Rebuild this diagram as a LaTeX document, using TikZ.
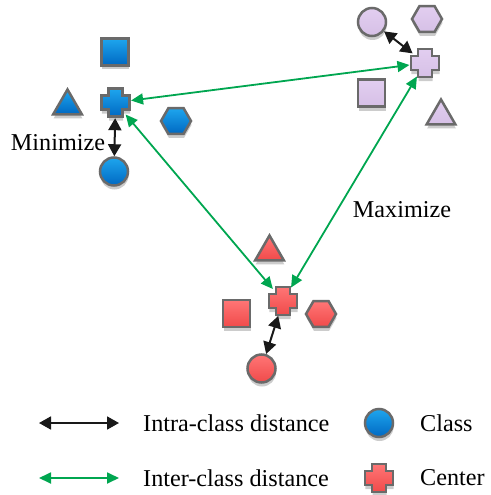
\documentclass[tikz,border=0pt]{standalone}
\usepackage{fontspec}
\setmainfont{Liberation Serif}
\usetikzlibrary{arrows.meta,shapes.geometric,shadows,calc}
\definecolor{btop}{HTML}{1EA6EE}
\definecolor{bbot}{HTML}{0068C2}
\definecolor{ptop}{HTML}{E2CEF0}
\definecolor{pbot}{HTML}{D6C0E6}
\definecolor{rtop}{HTML}{FF7676}
\definecolor{rbot}{HTML}{F04A4A}
\definecolor{edge}{HTML}{6A6A6A}
\definecolor{grn}{HTML}{00A650}
\tikzset{
  shp/.style={draw=edge, line width=2.5pt, inner sep=0pt,
    drop shadow={shadow xshift=0.5pt, shadow yshift=-4pt, fill=black, opacity=0.2}},
  bluef/.style={top color=btop, bottom color=bbot},
  purpf/.style={top color=ptop, bottom color=pbot},
  redf/.style={top color=rtop, bottom color=rbot},
  sq/.style={shp, rectangle, minimum size=27pt},
  tri/.style={shp, regular polygon, regular polygon sides=3, minimum size=33pt},
  hexa/.style={shp, regular polygon, regular polygon sides=6, minimum size=30pt},
  circ/.style={shp, circle, minimum size=28pt},
  ctr/.style={circle, minimum size=31pt, inner sep=0pt},
  crossp/.style={shp},
  intra/.style={{Triangle[length=12pt,width=13pt]}-{Triangle[length=12pt,width=13pt]}, line width=2pt, black!90},
  inter/.style={{Triangle[length=12pt,width=11pt]}-{Triangle[length=12pt,width=11pt]}, line width=1.8pt, grn},
  lbl/.style={font=\fontsize{24.2}{27}\selectfont, inner sep=0pt}
}
\newcommand{\crossdraw}[2]{%
  \draw[crossp, #2, shift={(#1.center)}] (-7,-14.2) -- (7,-14.2) -- (7,-7) -- (14.2,-7) -- (14.2,7) -- (7,7) -- (7,14.2) -- (-7,14.2) -- (-7,7) -- (-14.2,7) -- (-14.2,-7) -- (-7,-7) -- cycle;}
\begin{document}
\begin{tikzpicture}[x=1pt,y=-1pt]
\useasboundingbox (0,0) rectangle (490,495);
% blue class
\node[sq, bluef] (bsq) at (115,52) {};
\node[tri, bluef] (btri) at (67.5,106) {};
\node[hexa, bluef] (bhex) at (176,121) {};
\node[circ, bluef] (bcirc) at (114,171.5) {};
\node[ctr] (bc) at (115.5,102.5) {};
\crossdraw{bc}{bluef}
% purple class
\node[circ, purpf] (pcirc) at (372,22) {};
\node[hexa, purpf] (phex) at (427,19) {};
\node[sq, purpf] (psq) at (371.5,93) {};
\node[tri, purpf] (ptri) at (441,116) {};
\node[ctr] (pc) at (425,63) {};
\crossdraw{pc}{purpf}
% red class
\node[tri, redf] (rtri) at (269.5,252) {};
\node[sq, redf] (rsq) at (236.5,313.5) {};
\node[hexa, redf] (rhex) at (321,314) {};
\node[circ, redf] (rcirc) at (261.5,368.5) {};
\node[ctr] (rc) at (283,301) {};
\crossdraw{rc}{redf}
% intra-class arrows
\draw[intra] (bc) -- (bcirc);
\draw[intra] (pcirc) -- (pc);
\draw[intra] (rc) -- (rcirc);
% inter-class arrows
\draw[inter] (bc) -- (pc);
\draw[inter] (bc) -- (rc);
\draw[inter] (pc) -- (rc);
% labels
\node[lbl] (tmin) at (58,143) {Minimize};
\node[lbl] (tmax) at (402,210) {Maximize};
% legend
\coordinate (l1a) at (39,423);
\coordinate (l1b) at (119,423);
\coordinate (l2a) at (39,478);
\coordinate (l2b) at (119,478);
\draw[intra, line width=1.8pt] (l1a) -- (l1b);
\draw[inter] (l2a) -- (l2b);
\node[lbl, anchor=west] (tintra) at (143,423) {Intra-class distance};
\node[lbl, anchor=west] (tinter) at (143,478) {Inter-class distance};
\node[circ, bluef] (lcirc) at (379,423) {};
\node[ctr] (lc) at (379,478) {};
\crossdraw{lc}{redf}
\node[lbl, anchor=west] (tclass) at (420,423) {Class};
\node[lbl, anchor=west] (tcenter) at (420,478) {Center};
\end{tikzpicture}
\end{document}
